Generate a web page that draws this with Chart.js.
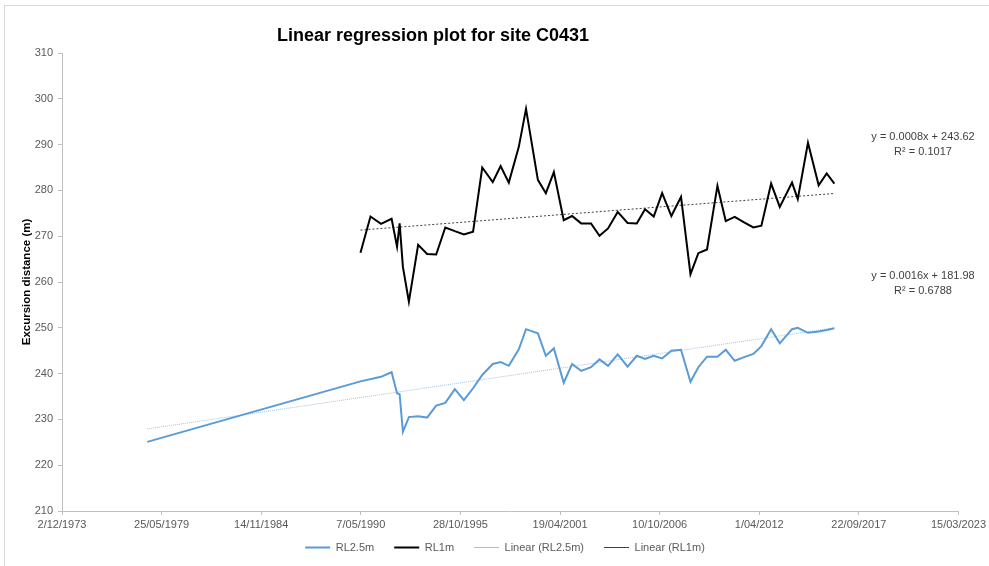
<!DOCTYPE html>
<html>
<head>
<meta charset="utf-8">
<script src="https://cdn.jsdelivr.net/npm/chart.js@4"></script>
<style>
  html, body { margin: 0; padding: 0; background: #fff; }
  #wrap { position: relative; width: 989px; height: 566px; overflow: hidden; }
  #frame { position: absolute; left: 4px; top: 5px; width: 1000px; height: 600px; border: 1px solid #d9d9d9; }
  #regChart { position: absolute; left: 0; top: 0; }
</style>
</head>
<body>
<div id="wrap">
  <div id="frame"></div>
  <canvas id="regChart" width="989" height="566"></canvas>
</div>
<script>
// survey dates (shared by both profiles)
const surveyDates = [
  '1978-08-10', '1990-04-30', '1990-11-17', '1991-06-16', '1992-01-15', '1992-05-03',
  '1992-06-24', '1992-08-29', '1992-12-27', '1993-07-01', '1993-12-28', '1994-06-28',
  '1994-12-28', '1995-07-08', '1996-01-05', '1996-07-08', '1997-01-08', '1997-08-07',
  '1998-01-12', '1998-06-25', '1999-01-12', '1999-06-06', '2000-01-30', '2000-07-08',
  '2000-12-16', '2001-07-02', '2001-12-16', '2002-06-17', '2003-01-01', '2003-06-20',
  '2003-12-09', '2004-06-20', '2005-01-04', '2005-07-08', '2005-12-20', '2006-06-13',
  '2006-11-29', '2007-06-02', '2007-12-13', '2008-06-20', '2008-11-25', '2009-05-18',
  '2009-12-13', '2010-05-29', '2010-11-25', '2011-06-02', '2011-12-05', '2012-05-14',
  '2012-11-25', '2013-05-18', '2014-01-19', '2014-05-14', '2014-12-05', '2015-07-08',
  '2015-12-16', '2016-05-18'
];

// excursion distance (m) at RL 2.5 m
const rl25 = [
  225.1, 238.3, null, 239.3, 240.3, 235.7,
  235.5, 227.3, 230.5, 230.7, 230.4, 233.0,
  233.6, 236.6, 234.2, 236.8, 239.7, 242.1,
  242.5, 241.7, 245.3, 249.7, 248.8, 243.9,
  245.5, 238.0, 242.1, 240.6, 241.4, 243.1,
  241.7, 244.2, 241.5, 243.9, 243.2, 243.9,
  243.3, 245.0, 245.2, 238.2, 241.4, 243.7,
  243.7, 245.2, 242.8, 243.6, 244.3, 246.0,
  249.7, 246.6, 249.7, 250.0, 248.9, 249.2,
  249.5, 249.9
];

// excursion distance (m) at RL 1 m
const rl1 = [
  null, 266.4, 274.3, 272.7, 273.8, 267.7,
  272.8, 263.3, 255.7, 268.1, 266.1, 266.0,
  271.9, 271.1, 270.4, 271.0, 285.0, 281.8,
  285.3, 281.7, 289.5, 297.8, 282.3, 279.4,
  284.0, 273.5, 274.4, 272.8, 272.8, 270.1,
  271.7, 275.3, 272.9, 272.8, 275.9, 274.3,
  279.4, 274.4, 278.6, 261.7, 266.3, 267.1,
  281.0, 273.3, 274.2, 273.0, 271.9, 272.3,
  281.5, 276.4, 281.7, 278.1, 290.4, 281.1,
  283.7, 281.5
];

// least-squares fits against Excel date serial: [RL2.5m, RL1m]
const trendSlope = [0.0016, 0.00084];
const trendIntercept = [181.98, 243.62];
const trendR2 = [0.6788, 0.1017];

// axis ranges
const xMin = 27000, xMax = 45000, xStep = 2000;
const yMin = 210, yMax = 310, yStep = 10;

const EXCEL_EPOCH = 25569; // serial of 1/01/1970

function toSerial(iso) {
  const [y, m, d] = iso.split('-').map(Number);
  return Date.UTC(y, m - 1, d) / 86400000 + EXCEL_EPOCH;
}

function serialLabel(v) {
  const dt = new Date((v - EXCEL_EPOCH) * 86400000);
  const mm = String(dt.getUTCMonth() + 1).padStart(2, '0');
  return dt.getUTCDate() + '/' + mm + '/' + dt.getUTCFullYear();
}

function seriesPoints(values) {
  return surveyDates.map((d, i) => ({ x: toSerial(d), y: values[i] }));
}

function trendPoints(values, k) {
  const xs = surveyDates.filter((d, i) => values[i] !== null).map(toSerial);
  const x0 = Math.min(...xs), x1 = Math.max(...xs);
  return [
    { x: x0, y: trendIntercept[k] + trendSlope[k] * x0 },
    { x: x1, y: trendIntercept[k] + trendSlope[k] * x1 }
  ];
}

const FONT = "'Liberation Sans', Arial, sans-serif";

// title and trendline equations
const annotations = {
  id: 'annotations',
  afterLayout(chart) {
    // centre the legend under the plot and pull it up a little
    chart.legend.left += 50;
    chart.legend.top -= 11;
    chart.legend.bottom -= 11;
  },
  afterDraw(chart) {
    const ctx = chart.ctx;
    ctx.save();
    ctx.textAlign = 'center';
    ctx.textBaseline = 'middle';
    ctx.fillStyle = '#000';
    ctx.font = 'bold 18px ' + FONT;
    ctx.fillText('Linear regression plot for site C0431', 433, 36);

    ctx.font = '11px ' + FONT;
    ctx.fillStyle = '#404040';
    const eq = (k) => 'y = ' + trendSlope[k].toFixed(4) + 'x + ' + trendIntercept[k].toFixed(2);
    ctx.fillText(eq(1), 923, 137);
    ctx.fillText('R\u00B2 = ' + trendR2[1].toFixed(4), 923, 152);
    ctx.fillText(eq(0), 923, 276);
    ctx.fillText('R\u00B2 = ' + trendR2[0].toFixed(4), 923, 291);
    ctx.restore();
  }
};

new Chart(document.getElementById('regChart'), {
  type: 'line',
  data: {
    datasets: [
      {
        label: 'RL2.5m',
        data: seriesPoints(rl25),
        borderColor: '#5b9bd5',
        borderWidth: 2,
        pointRadius: 0,
        spanGaps: true
      },
      {
        label: 'RL1m',
        data: seriesPoints(rl1),
        borderColor: '#000000',
        borderWidth: 2,
        pointRadius: 0,
        spanGaps: true
      },
      {
        label: 'Linear (RL2.5m)',
        data: trendPoints(rl25, 0),
        borderColor: '#9dc3e6',
        borderWidth: 1,
        borderDash: [1, 1],
        pointRadius: 0
      },
      {
        label: 'Linear (RL1m)',
        data: trendPoints(rl1, 1),
        borderColor: '#404040',
        borderWidth: 1,
        borderDash: [2, 2],
        pointRadius: 0
      }
    ]
  },
  options: {
    responsive: false,
    animation: false,
    layout: { padding: { left: 0, right: 29, top: 53, bottom: -8 } },
    plugins: {
      tooltip: { enabled: false },
      legend: {
        position: 'bottom',
        labels: {
          usePointStyle: true,
          pointStyle: 'line',
          pointStyleWidth: 25,
          padding: 20,
          color: '#595959',
          font: { family: FONT, size: 11 }
        }
      }
    },
    scales: {
      x: {
        type: 'linear',
        min: xMin,
        max: xMax,
        afterFit(scale) { scale.height = 22; },
        ticks: {
          stepSize: xStep,
          maxRotation: 0,
          padding: 3,
          color: '#595959',
          font: { family: FONT, size: 11 },
          callback: (v) => serialLabel(v)
        },
        grid: { drawOnChartArea: false, tickLength: 4, color: '#bfbfbf' },
        border: { color: '#bfbfbf' }
      },
      y: {
        min: yMin,
        max: yMax,
        afterFit(scale) { scale.width = 62; },
        ticks: {
          stepSize: yStep,
          padding: 5,
          color: '#595959',
          font: { family: FONT, size: 11 }
        },
        grid: { drawOnChartArea: false, tickLength: 4, color: '#bfbfbf' },
        border: { color: '#bfbfbf' },
        title: {
          display: true,
          text: 'Excursion distance (m)',
          color: '#000',
          font: { family: FONT, size: 11.5, weight: 'bold' },
          padding: { top: 20, bottom: 0 }
        }
      }
    }
  },
  plugins: [annotations]
});
</script>
</body>
</html>
